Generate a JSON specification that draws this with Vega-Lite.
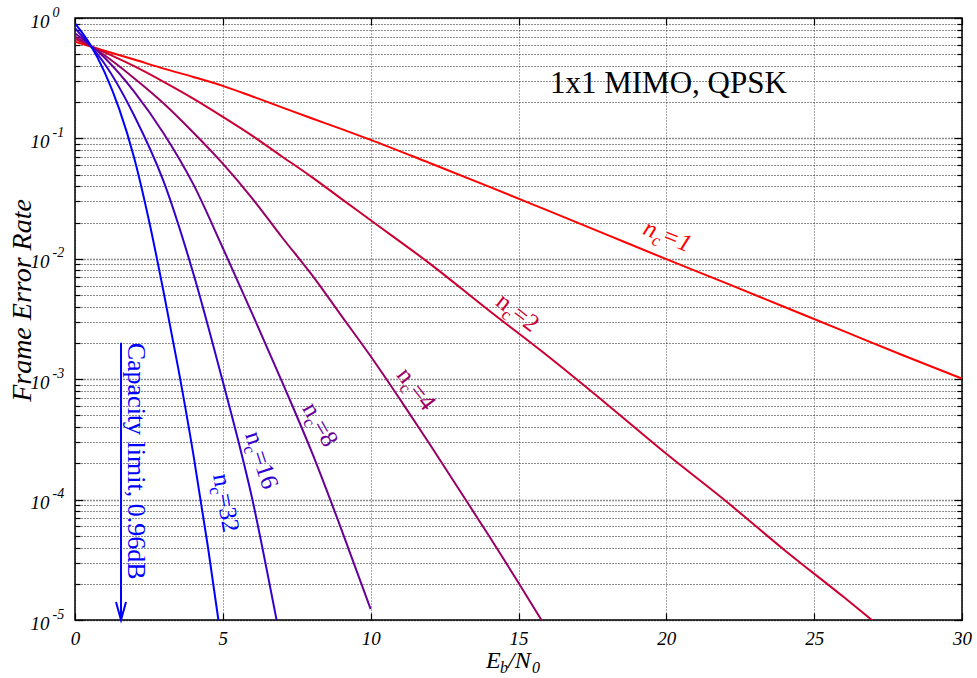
{
  "$schema": "https://vega.github.io/schema/vega-lite/v6.json",
  "width": 887,
  "height": 602,
  "autosize": "none",
  "padding": {"left": 75, "top": 18, "right": 15, "bottom": 58},
  "background": "#ffffff",
  "config": {
    "font": "Liberation Serif",
    "view": {"stroke": "#000000", "strokeWidth": 1.5},
    "axis": {"labelFont": "Liberation Serif", "titleFont": "Liberation Serif", "labelColor": "#000000", "titleColor": "#000000", "tickColor": "#000000", "domain": false}
  },
  "datasets": {
    "curves": [
      {"nc": "1", "x": 0, "y": 0.635}, {"nc": "1", "x": 1, "y": 0.535}, {"nc": "1", "x": 2, "y": 0.452}, {"nc": "1", "x": 3, "y": 0.380}, {"nc": "1", "x": 4, "y": 0.324}, {"nc": "1", "x": 5, "y": 0.273}, {"nc": "1", "x": 6, "y": 0.223}, {"nc": "1", "x": 7, "y": 0.181}, {"nc": "1", "x": 8, "y": 0.147}, {"nc": "1", "x": 9, "y": 0.120}, {"nc": "1", "x": 10, "y": 0.0973}, {"nc": "1", "x": 12, "y": 0.0624}, {"nc": "1", "x": 14, "y": 0.0398}, {"nc": "1", "x": 16, "y": 0.0251}, {"nc": "1", "x": 18, "y": 0.0158}, {"nc": "1", "x": 20, "y": 0.00993}, {"nc": "1", "x": 22, "y": 0.00631}, {"nc": "1", "x": 24, "y": 0.00398}, {"nc": "1", "x": 26, "y": 0.00251}, {"nc": "1", "x": 28, "y": 0.00158}, {"nc": "1", "x": 30, "y": 0.00101},
      {"nc": "2", "x": 0, "y": 0.670}, {"nc": "2", "x": 1, "y": 0.519}, {"nc": "2", "x": 2, "y": 0.398}, {"nc": "2", "x": 3, "y": 0.295}, {"nc": "2", "x": 4, "y": 0.214}, {"nc": "2", "x": 5, "y": 0.151}, {"nc": "2", "x": 6, "y": 0.105}, {"nc": "2", "x": 7, "y": 0.0708}, {"nc": "2", "x": 8, "y": 0.0479}, {"nc": "2", "x": 9, "y": 0.0316}, {"nc": "2", "x": 10, "y": 0.0209}, {"nc": "2", "x": 12, "y": 0.00912}, {"nc": "2", "x": 14, "y": 0.00372}, {"nc": "2", "x": 16, "y": 0.00155}, {"nc": "2", "x": 18, "y": 0.000617}, {"nc": "2", "x": 20, "y": 0.000240}, {"nc": "2", "x": 22, "y": 0.0000977}, {"nc": "2", "x": 24, "y": 0.0000380}, {"nc": "2", "x": 26, "y": 0.0000155}, {"nc": "2", "x": 27, "y": 0.00000977},
      {"nc": "4", "x": 0, "y": 0.700}, {"nc": "4", "x": 1, "y": 0.490}, {"nc": "4", "x": 2, "y": 0.316}, {"nc": "4", "x": 3, "y": 0.195}, {"nc": "4", "x": 4, "y": 0.112}, {"nc": "4", "x": 5, "y": 0.0617}, {"nc": "4", "x": 6, "y": 0.0316}, {"nc": "4", "x": 7, "y": 0.0151}, {"nc": "4", "x": 8, "y": 0.00741}, {"nc": "4", "x": 9, "y": 0.00339}, {"nc": "4", "x": 10, "y": 0.00155}, {"nc": "4", "x": 11, "y": 0.000676}, {"nc": "4", "x": 12, "y": 0.000288}, {"nc": "4", "x": 13, "y": 0.000120}, {"nc": "4", "x": 14, "y": 0.0000501}, {"nc": "4", "x": 15, "y": 0.0000204}, {"nc": "4", "x": 15.8, "y": 0.00000977},
      {"nc": "8", "x": 0, "y": 0.746}, {"nc": "8", "x": 1, "y": 0.468}, {"nc": "8", "x": 2, "y": 0.245}, {"nc": "8", "x": 3, "y": 0.110}, {"nc": "8", "x": 4, "y": 0.0417}, {"nc": "8", "x": 5, "y": 0.0123}, {"nc": "8", "x": 6, "y": 0.00347}, {"nc": "8", "x": 7, "y": 0.000955}, {"nc": "8", "x": 8, "y": 0.000251}, {"nc": "8", "x": 9, "y": 0.0000575}, {"nc": "8", "x": 10, "y": 0.0000123},
      {"nc": "16", "x": 0, "y": 0.822}, {"nc": "16", "x": 0.5, "y": 0.596}, {"nc": "16", "x": 1, "y": 0.417}, {"nc": "16", "x": 2, "y": 0.155}, {"nc": "16", "x": 3, "y": 0.0437}, {"nc": "16", "x": 4, "y": 0.00759}, {"nc": "16", "x": 5, "y": 0.000955}, {"nc": "16", "x": 5.5, "y": 0.000324}, {"nc": "16", "x": 6, "y": 0.000100}, {"nc": "16", "x": 6.5, "y": 0.0000251}, {"nc": "16", "x": 6.85, "y": 0.00000912},
      {"nc": "32", "x": 0, "y": 0.904}, {"nc": "32", "x": 0.5, "y": 0.610}, {"nc": "32", "x": 1, "y": 0.355}, {"nc": "32", "x": 1.5, "y": 0.174}, {"nc": "32", "x": 2, "y": 0.0692}, {"nc": "32", "x": 2.5, "y": 0.0209}, {"nc": "32", "x": 3, "y": 0.00525}, {"nc": "32", "x": 3.5, "y": 0.00120}, {"nc": "32", "x": 4, "y": 0.000240}, {"nc": "32", "x": 4.5, "y": 0.0000398}, {"nc": "32", "x": 4.85, "y": 0.0000100}
    ],
    "labels": [
      {"nc": "1", "x": 19.17, "y": 0.01611, "n": "n", "sub": "c", "rest": "=1"},
      {"nc": "2", "x": 14.19, "y": 0.004188, "n": "n", "sub": "c", "rest": "=2"},
      {"nc": "4", "x": 10.85, "y": 0.001076, "n": "n", "sub": "c", "rest": "=4"},
      {"nc": "8", "x": 7.67, "y": 0.000573, "n": "n", "sub": "c", "rest": "=8"},
      {"nc": "16", "x": 5.75, "y": 0.000348, "n": "n", "sub": "c", "rest": "=16"},
      {"nc": "32", "x": 4.67, "y": 0.0001596, "n": "n", "sub": "c", "rest": "=32"}
    ],
    "capacity": [{"x": 1.556, "y": 0.00201, "y2": 0.00001}],
    "captext": [{"x": 1.79, "y": 0.00201, "text": "Capacity limit, 0.96dB"}],
    "heading": [{"x": 20.07, "y": 0.239, "text": "1x1 MIMO, QPSK"}],
    "xtitle": [{"x": 13.9, "y": 0.00000403, "a": "E", "b": "b", "c": "/N", "d": "0"}]
  },
  "encoding": {
    "x": {"field": "x", "type": "quantitative", "scale": {"domain": [0, 30], "nice": false, "zero": false}, "axis": null},
    "y": {"field": "y", "type": "quantitative", "scale": {"type": "log", "domain": [0.00001, 1], "nice": false}, "axis": null}
  },
  "layer": [
    {
      "data": {"name": "curves"},
      "mark": {"type": "line", "interpolate": "monotone", "strokeWidth": 2, "clip": true},
      "encoding": {
        "x": {"field": "x", "type": "quantitative", "scale": {"domain": [0, 30], "nice": false, "zero": false},
          "axis": {"orient": "bottom", "values": [0, 5, 10, 15, 20, 25, 30], "title": null, "grid": true, "gridColor": "#000000", "gridDash": [1, 2], "gridOpacity": 0.7, "gridWidth": 1, "tickSize": -7, "tickWidth": 1.2, "labelFontSize": 19, "labelFontStyle": "italic", "labelPadding": 16, "labelFlush": false, "labelOverlap": false}},
        "y": {"field": "y", "type": "quantitative", "scale": {"type": "log", "domain": [0.00001, 1], "nice": false},
          "axis": {"orient": "left",
            "values": [0.00001, 0.00002, 0.00003, 0.00004, 0.00005, 0.00006, 0.00007, 0.00008, 0.00009, 0.0001, 0.0002, 0.0003, 0.0004, 0.0005, 0.0006, 0.0007, 0.0008, 0.0009, 0.001, 0.002, 0.003, 0.004, 0.005, 0.006, 0.007, 0.008, 0.009, 0.01, 0.02, 0.03, 0.04, 0.05, 0.06, 0.07, 0.08, 0.09, 0.1, 0.2, 0.3, 0.4, 0.5, 0.6, 0.7, 0.8, 0.9, 1],
            "title": "Frame Error Rate", "titleFontSize": 28, "titleFontStyle": "italic", "titleFontWeight": "normal", "titleX": -45, "titleY": 282, "titleBaseline": "alphabetic", "titleAngle": -90, "titleAlign": "center",
            "grid": true, "gridColor": "#000000", "gridDash": [1, 2], "gridOpacity": 0.9,
            "gridWidth": {"condition": {"test": "abs(log(datum.value)/LN10 - round(log(datum.value)/LN10)) < 0.001", "value": 1.5}, "value": 1},
            "tickSize": {"condition": {"test": "abs(log(datum.value)/LN10 - round(log(datum.value)/LN10)) < 0.001", "value": -8}, "value": -5},
            "tickWidth": 1.2,
            "labelExpr": "abs(log(datum.value)/LN10 - round(log(datum.value)/LN10)) < 0.001 ? '10' : ''",
            "labelFontSize": 19, "labelFontStyle": "italic", "labelAlign": "right", "labelBaseline": "middle", "labelOffset": 3,
            "labelPadding": 34,
            "labelOverlap": false, "labelFlush": false}},
        "color": {"field": "nc", "type": "nominal", "scale": {"domain": ["1", "2", "4", "8", "16", "32"], "range": ["#ff0000", "#cc0033", "#990066", "#660099", "#3300cc", "#0000ff"]}, "legend": null}
      }
    },
    {
      "data": {"name": "capacity"},
      "mark": {"type": "rule", "color": "#0000ff", "strokeWidth": 2},
      "encoding": {
        "x": {"field": "x", "type": "quantitative", "scale": {"domain": [0, 30], "nice": false, "zero": false},
          "axis": {"orient": "top", "values": [0, 5, 10, 15, 20, 25, 30], "title": null, "grid": false, "labels": false, "tickSize": -7, "tickWidth": 1.2}},
        "y": {"field": "y", "type": "quantitative", "scale": {"type": "log", "domain": [0.00001, 1], "nice": false},
          "axis": {"orient": "right",
            "values": [0.00001, 0.00002, 0.00003, 0.00004, 0.00005, 0.00006, 0.00007, 0.00008, 0.00009, 0.0001, 0.0002, 0.0003, 0.0004, 0.0005, 0.0006, 0.0007, 0.0008, 0.0009, 0.001, 0.002, 0.003, 0.004, 0.005, 0.006, 0.007, 0.008, 0.009, 0.01, 0.02, 0.03, 0.04, 0.05, 0.06, 0.07, 0.08, 0.09, 0.1, 0.2, 0.3, 0.4, 0.5, 0.6, 0.7, 0.8, 0.9, 1],
            "title": null, "grid": false, "labels": false,
            "tickSize": {"condition": {"test": "abs(log(datum.value)/LN10 - round(log(datum.value)/LN10)) < 0.001", "value": -8}, "value": -5},
            "tickWidth": 1.2}},
        "y2": {"field": "y2"}
      }
    },
    {
      "data": {"name": "capacity"},
      "mark": {"type": "point", "shape": "M-0.5,-1.8L0,0L0.5,-1.8", "size": 400, "filled": false, "stroke": "#0000ff", "strokeWidth": 2, "opacity": 1},
      "encoding": {"y": {"field": "y2", "type": "quantitative", "scale": {"type": "log", "domain": [0.00001, 1], "nice": false},
        "axis": {"orient": "left", "values": [0.00001, 0.0001, 0.001, 0.01, 0.1, 1], "title": null, "grid": false, "ticks": false, "domain": false,
          "labelExpr": "'' + round(log(datum.value)/LN10)",
          "labelFontSize": 14, "labelFontStyle": "italic", "labelAlign": "left", "labelBaseline": "middle", "labelOffset": -6, "labelPadding": 23, "labelOverlap": false, "labelFlush": false}}}
    },
    {
      "data": {"name": "captext"},
      "mark": {"type": "text", "fontSize": 26, "angle": 90, "align": "left", "baseline": "alphabetic", "color": "#0000ff"},
      "encoding": {"text": {"field": "text"}}
    },
    {
      "data": {"name": "heading"},
      "mark": {"type": "text", "fontSize": 31, "align": "center", "baseline": "alphabetic", "color": "#000000"},
      "encoding": {"text": {"field": "text"}}
    },
    {
      "data": {"name": "labels"},
      "transform": [{"filter": "datum.nc == '1'"}],
      "layer": [
        {"mark": {"type": "text", "angle": 22, "align": "left", "baseline": "alphabetic", "fontSize": 25, "fontStyle": "italic", "color": "#ff0000"}, "encoding": {"text": {"field": "n"}}},
        {"mark": {"type": "text", "angle": 22, "align": "left", "baseline": "alphabetic", "fontSize": 17, "fontStyle": "italic", "dx": 12, "dy": 6, "color": "#ff0000"}, "encoding": {"text": {"field": "sub"}}},
        {"mark": {"type": "text", "angle": 22, "align": "left", "baseline": "alphabetic", "fontSize": 25, "fontStyle": "italic", "dx": 20, "color": "#ff0000"}, "encoding": {"text": {"field": "rest"}}}
      ]
    },
    {
      "data": {"name": "labels"},
      "transform": [{"filter": "datum.nc == '2'"}],
      "layer": [
        {"mark": {"type": "text", "angle": 38, "align": "left", "baseline": "alphabetic", "fontSize": 25, "color": "#cc0033"}, "encoding": {"text": {"field": "n"}}},
        {"mark": {"type": "text", "angle": 38, "align": "left", "baseline": "alphabetic", "fontSize": 17, "dx": 12, "dy": 6, "color": "#cc0033"}, "encoding": {"text": {"field": "sub"}}},
        {"mark": {"type": "text", "angle": 38, "align": "left", "baseline": "alphabetic", "fontSize": 25, "dx": 20, "color": "#cc0033"}, "encoding": {"text": {"field": "rest"}}}
      ]
    },
    {
      "data": {"name": "labels"},
      "transform": [{"filter": "datum.nc == '4'"}],
      "layer": [
        {"mark": {"type": "text", "angle": 52, "align": "left", "baseline": "alphabetic", "fontSize": 25, "color": "#990066"}, "encoding": {"text": {"field": "n"}}},
        {"mark": {"type": "text", "angle": 52, "align": "left", "baseline": "alphabetic", "fontSize": 17, "dx": 12, "dy": 6, "color": "#990066"}, "encoding": {"text": {"field": "sub"}}},
        {"mark": {"type": "text", "angle": 52, "align": "left", "baseline": "alphabetic", "fontSize": 25, "dx": 20, "color": "#990066"}, "encoding": {"text": {"field": "rest"}}}
      ]
    },
    {
      "data": {"name": "labels"},
      "transform": [{"filter": "datum.nc == '8'"}],
      "layer": [
        {"mark": {"type": "text", "angle": 60, "align": "left", "baseline": "alphabetic", "fontSize": 25, "color": "#660099"}, "encoding": {"text": {"field": "n"}}},
        {"mark": {"type": "text", "angle": 60, "align": "left", "baseline": "alphabetic", "fontSize": 17, "dx": 12, "dy": 6, "color": "#660099"}, "encoding": {"text": {"field": "sub"}}},
        {"mark": {"type": "text", "angle": 60, "align": "left", "baseline": "alphabetic", "fontSize": 25, "dx": 20, "color": "#660099"}, "encoding": {"text": {"field": "rest"}}}
      ]
    },
    {
      "data": {"name": "labels"},
      "transform": [{"filter": "datum.nc == '16'"}],
      "layer": [
        {"mark": {"type": "text", "angle": 72, "align": "left", "baseline": "alphabetic", "fontSize": 25, "color": "#3300cc"}, "encoding": {"text": {"field": "n"}}},
        {"mark": {"type": "text", "angle": 72, "align": "left", "baseline": "alphabetic", "fontSize": 17, "dx": 12, "dy": 6, "color": "#3300cc"}, "encoding": {"text": {"field": "sub"}}},
        {"mark": {"type": "text", "angle": 72, "align": "left", "baseline": "alphabetic", "fontSize": 25, "dx": 20, "color": "#3300cc"}, "encoding": {"text": {"field": "rest"}}}
      ]
    },
    {
      "data": {"name": "labels"},
      "transform": [{"filter": "datum.nc == '32'"}],
      "layer": [
        {"mark": {"type": "text", "angle": 80, "align": "left", "baseline": "alphabetic", "fontSize": 25, "color": "#0000ff"}, "encoding": {"text": {"field": "n"}}},
        {"mark": {"type": "text", "angle": 80, "align": "left", "baseline": "alphabetic", "fontSize": 17, "dx": 12, "dy": 6, "color": "#0000ff"}, "encoding": {"text": {"field": "sub"}}},
        {"mark": {"type": "text", "angle": 80, "align": "left", "baseline": "alphabetic", "fontSize": 25, "dx": 20, "color": "#0000ff"}, "encoding": {"text": {"field": "rest"}}}
      ]
    },
    {
      "data": {"name": "xtitle"},
      "layer": [
        {"mark": {"type": "text", "align": "left", "baseline": "alphabetic", "fontSize": 24, "fontStyle": "italic", "color": "#000000"}, "encoding": {"text": {"field": "a"}}},
        {"mark": {"type": "text", "align": "left", "baseline": "alphabetic", "fontSize": 16, "fontStyle": "italic", "dx": 14, "dy": 5, "color": "#000000"}, "encoding": {"text": {"field": "b"}}},
        {"mark": {"type": "text", "align": "left", "baseline": "alphabetic", "fontSize": 24, "fontStyle": "italic", "dx": 22, "color": "#000000"}, "encoding": {"text": {"field": "c"}}},
        {"mark": {"type": "text", "align": "left", "baseline": "alphabetic", "fontSize": 16, "fontStyle": "italic", "dx": 46, "dy": 5, "color": "#000000"}, "encoding": {"text": {"field": "d"}}}
      ]
    }
  ],
  "resolve": {"axis": {"x": "independent", "y": "independent"}}
}
